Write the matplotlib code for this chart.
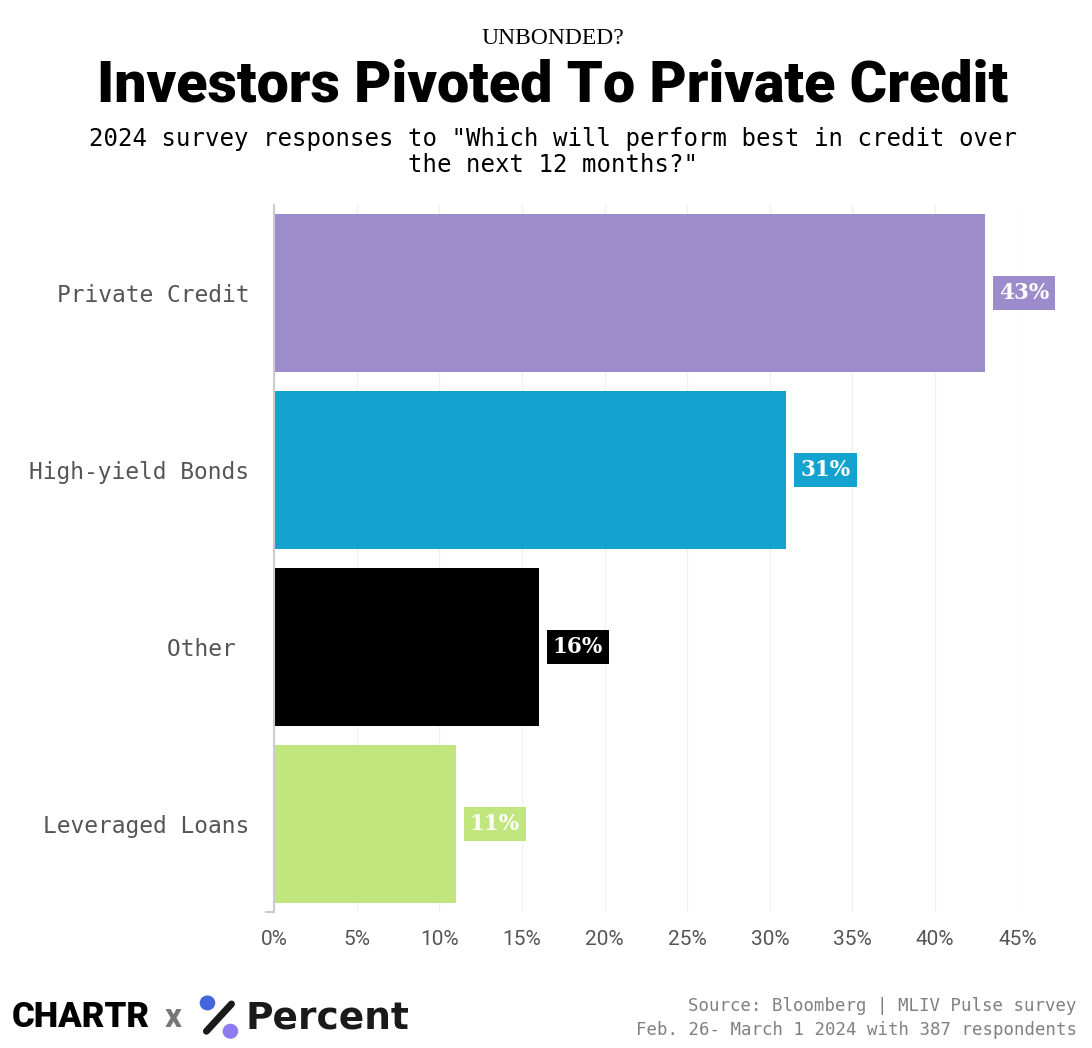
import matplotlib.pyplot as plt
from matplotlib.patches import Circle
from matplotlib.lines import Line2D

categories = ["Private Credit", "High-yield Bonds", "Other ", "Leveraged Loans"]
shares = [43, 31, 16, 11]
bar_colors = ["#9c8ccb", "#14a3cf", "#000000", "#c2e67e"]
xticks = [0, 5, 10, 15, 20, 25, 30, 35, 40, 45]

mono = "DejaVu Sans Mono"
fig = plt.figure(figsize=(10.92, 10.48), dpi=100)
ax = fig.add_axes([0.251, 0.1298, 0.681, 0.6746])

ypos = list(range(len(categories)))
ax.barh(ypos, shares, height=0.893, color=bar_colors, zorder=2)
ax.set_ylim(3.5, -0.5)
ax.set_xlim(0, 45)

for y, v, c in zip(ypos, shares, bar_colors):
    ax.text(v + 0.85, y, f"{v}%", ha="left", va="center", color="white",
            fontsize=15.5, fontweight="bold", family="DejaVu Serif",
            bbox=dict(boxstyle="square,pad=0.28", fc=c, ec="none"), zorder=3)

ax.set_yticks(ypos)
ax.set_yticklabels(categories, family=mono, fontsize=16.5, color="#555555")
ax.set_xticks(xticks)
ax.set_xticklabels([f"{t}%" for t in xticks], family="Roboto",
                   fontsize=15, color="#555555")
ax.tick_params(axis="y", length=0, pad=18)
ax.tick_params(axis="x", length=0, pad=13)
ax.grid(axis="x", color="#f0f0f0", linewidth=1, zorder=0)
for s in ["top", "right", "bottom"]:
    ax.spines[s].set_visible(False)
ax.spines["left"].set_color("#cccccc")
ax.spines["left"].set_linewidth(1.5)
ax.plot([-0.5, 0], [3.5, 3.5], color="#cccccc", lw=1.5, clip_on=False)

fig.text(0.506, 0.963, "UNBONDED?", ha="center", va="center",
         family="Liberation Serif", fontsize=17)
fig.text(0.506, 0.918, "Investors Pivoted To Private Credit", ha="center",
         va="center", family="Roboto", fontweight=900, fontsize=41.3)
fig.text(0.506, 0.855, "2024 survey responses to \"Which will perform best in credit over\n"
         "the next 12 months?\"", ha="center", va="center", family=mono,
         fontsize=17.3, linespacing=1.15)

fig.text(0.986, 0.0285, "Source: Bloomberg | MLIV Pulse survey\n"
         "Feb. 26- March 1 2024 with 387 respondents", ha="right", va="center",
         family=mono, fontsize=12.5, color="#808080", linespacing=1.45)

# footer logos
fig.text(0.011, 0.029, "CHARTR", ha="left", va="center", family="Roboto",
         fontweight=900, fontsize=25, color="black")
fig.text(0.151, 0.029, "x", ha="left", va="center", family="Roboto",
         fontweight="bold", fontsize=24, color="#777777")
fig.add_artist(Circle((0.190, 0.043), 0.0065, transform=fig.transFigure,
                      color="#4466dd"))
fig.add_artist(Circle((0.211, 0.016), 0.0065, transform=fig.transFigure,
                      color="#8c7cf0"))
fig.add_artist(Line2D([0.189, 0.212], [0.016, 0.042], transform=fig.transFigure,
                      color="#1a1a1a", lw=5, solid_capstyle="round"))
fig.text(0.225, 0.028, "Percent", ha="left", va="center", family="DejaVu Sans",
         fontweight="bold", fontsize=27, color="#1a1a1a")

fig.savefig("out.png", dpi=100, facecolor="white")
